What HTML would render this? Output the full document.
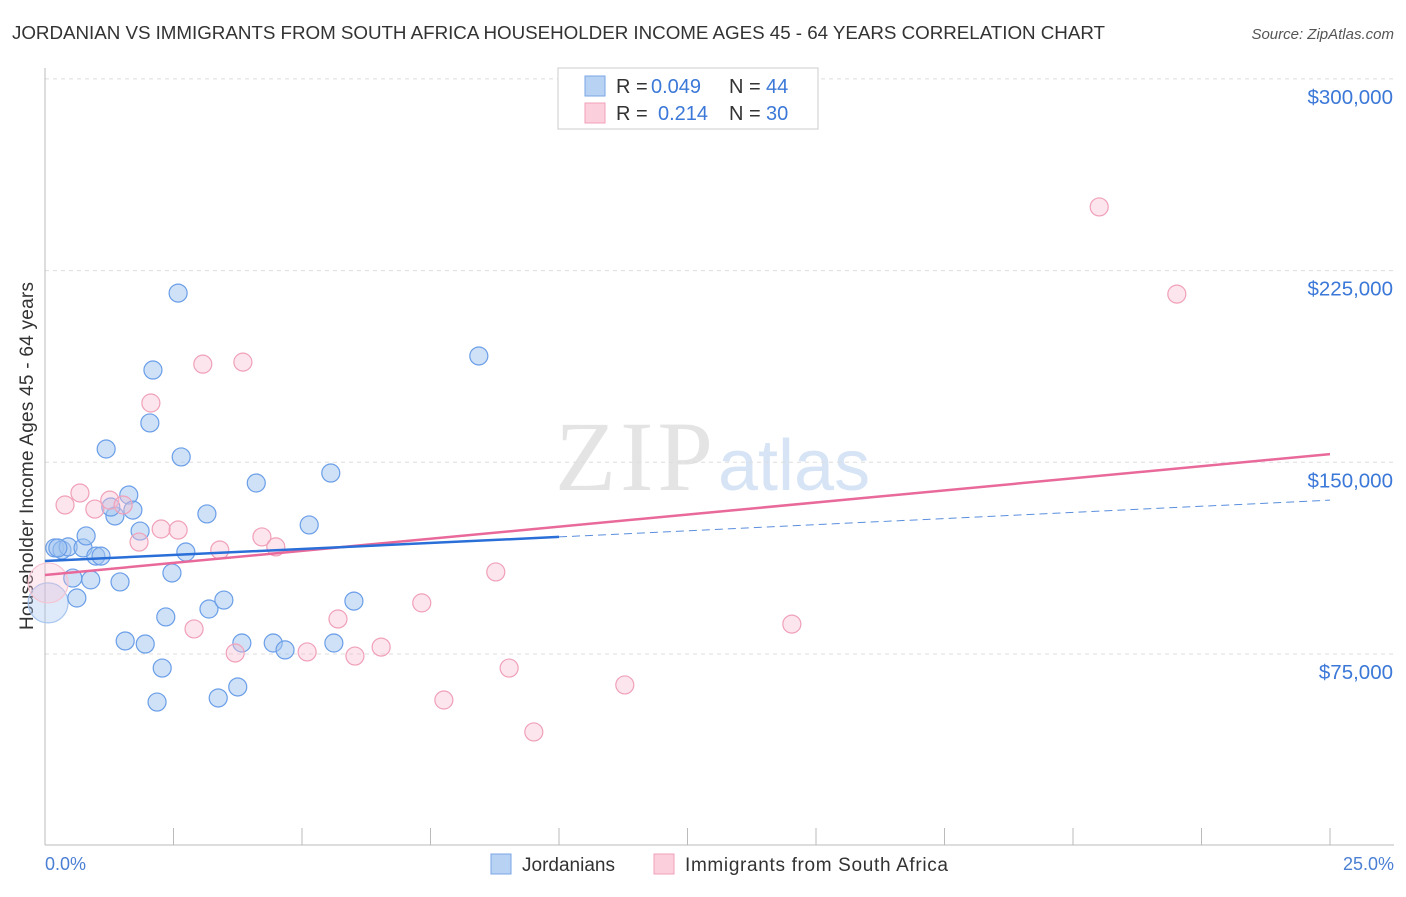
<!DOCTYPE html>
<html><head><meta charset="utf-8"><style>
body{margin:0;background:#fff;font-family:"Liberation Sans",sans-serif;}
</style></head><body>
<svg width="1406" height="892" viewBox="0 0 1406 892" xmlns="http://www.w3.org/2000/svg">
<text x="12" y="39" font-size="18.8" fill="#333" textLength="1093">JORDANIAN VS IMMIGRANTS FROM SOUTH AFRICA HOUSEHOLDER INCOME AGES 45 - 64 YEARS CORRELATION CHART</text>
<text x="1394" y="39" font-size="15" fill="#555" text-anchor="end" font-style="italic">Source: ZipAtlas.com</text>
<text x="555" y="490" font-size="100" fill="#e4e4e4" textLength="158" font-family="Liberation Serif">ZIP</text>
<text x="718" y="490" font-size="72" fill="#d6e4f5">atlas</text>
<g id="grid"></g>
<line x1="45" y1="68" x2="45" y2="845" stroke="#bbb"/>
<line x1="45" y1="845" x2="1394" y2="845" stroke="#bbb"/>
<g id="xt"></g>
<text x="45" y="870" font-size="18" fill="#4a7fd4">0.0%</text>
<text x="1394" y="870" font-size="18" fill="#4a7fd4" text-anchor="end">25.0%</text>
<text transform="translate(33,456) rotate(-90)" font-size="19" fill="#333" text-anchor="middle" textLength="348">Householder Income Ages 45 - 64 years</text>
<g id="pts"></g>
<g id="lines"></g>
<g>
<rect x="558" y="68" width="260" height="61" fill="#fff" stroke="#ccc"/>
<rect x="585" y="76" width="20" height="20" fill="#b8d2f4" stroke="#7aa6e6"/>
<text x="616" y="93" font-size="20" fill="#333">R =</text>
<text x="651" y="93" font-size="20" fill="#3b78d8">0.049</text>
<text x="729" y="93" font-size="20" fill="#333">N =</text>
<text x="766" y="93" font-size="20" fill="#3b78d8">44</text>
<rect x="585" y="103" width="20" height="20" fill="#fbcfdc" stroke="#f0a0b8"/>
<text x="616" y="120" font-size="20" fill="#333">R =</text>
<text x="658" y="120" font-size="20" fill="#3b78d8">0.214</text>
<text x="729" y="120" font-size="20" fill="#333">N =</text>
<text x="766" y="120" font-size="20" fill="#3b78d8">30</text>
</g>
<g>
<rect x="491" y="854" width="20" height="20" fill="#b8d2f4" stroke="#7aa6e6"/>
<text x="522" y="871" font-size="19" fill="#333">Jordanians</text>
<rect x="654" y="854" width="20" height="20" fill="#fbcfdc" stroke="#f0a0b8"/>
<text x="685" y="871" font-size="19" fill="#333" textLength="263">Immigrants from South Africa</text>
</g>
</svg>
<script>
const yTicks=[75,150,225,300];
const yTickLabels=["$75,000","$150,000","$225,000","$300,000"];
const blueX=[.06,.19,.33,.45,.74,.99,1.09,.54,.62,.89,1.46,.80,1.36,1.28,1.63,1.71,1.85,1.19,2.10,2.04,2.59,2.65,3.15,2.74,2.47,2.35,3.19,3.48,1.56,1.95,2.28,2.18,3.37,3.75,3.83,4.44,4.67,4.11,5.14,5.56,5.62,6.01,8.44,.25];
const blueY=[95.0,116.5,115.7,116.9,116.5,113.3,113.3,104.7,96.9,104.0,103.2,121.2,129.0,132.5,137.2,131.3,123.1,155.2,186.1,165.4,216.2,152.1,129.8,114.9,106.7,89.5,92.6,96.1,80.1,78.9,69.5,56.2,57.8,62.1,79.3,79.3,76.6,141.9,125.5,145.8,79.3,95.7,191.6,116.5];
const pinkX=[.06,.39,.68,.97,1.26,1.52,1.83,2.26,2.59,3.07,3.85,2.06,3.40,4.22,4.49,2.90,3.70,5.10,5.70,6.03,6.54,7.33,7.76,8.77,9.03,9.51,11.28,14.53,20.51,22.02];
const pinkY=[102.8,133.3,138.0,131.7,135.2,133.3,118.8,123.9,123.5,188.4,189.2,173.2,115.7,120.8,116.9,84.8,75.4,75.8,88.7,74.2,77.7,95.0,57.0,107.1,69.5,44.5,62.9,86.7,249.9,215.8];
const blueTrend=[111.4,120.8,135.2];
const pinkTrend=[105.9,153.2];
const NS="http://www.w3.org/2000/svg";
const X=p=>45+p*51.4;
const Y=v=>654-(v-75)*191.7/75;
function mk(t,a,parent){const e=document.createElementNS(NS,t);for(const k in a)e.setAttribute(k,a[k]);document.getElementById(parent).appendChild(e);return e;}
yTicks.forEach((v,i)=>{
 const l=mk('line',{x1:45,x2:1394,y1:Y(v),y2:Y(v),stroke:'#ddd','stroke-dasharray':'4,4'},'grid');
 
 
 const t=mk('text',{x:1393,y:Y(v)+25,'font-size':20.5,fill:'#3b78d8','text-anchor':'end'},'grid');
 t.textContent=yTickLabels[i];
 
 
});
for(let i=0;i<=10;i++){
 const l=mk('line',{x1:X(i*2.5),x2:X(i*2.5),y1:828,y2:845,stroke:'#bbb'},'xt');
 
 
}
blueX.forEach((x,i)=>{
 const c=mk('circle',{cx:X(x),cy:Y(blueY[i]),r:i==0?20:9,fill:i==0?'rgba(160,196,240,0.35)':'rgba(160,196,240,0.5)',stroke:i==0?'#a8c6f0':'#6a9ee8','stroke-width':1.2},'pts');
 
 
});
pinkX.forEach((x,i)=>{
 const c=mk('circle',{cx:X(x),cy:Y(pinkY[i]),r:i==0?20:9,fill:i==0?'rgba(248,190,210,0.3)':'rgba(248,190,210,0.4)',stroke:i==0?'#f6c4d2':'#f0a0b8','stroke-width':1.2},'pts');
 
 
});
let l=mk('line',{x1:X(0),y1:Y(pinkTrend[0]),x2:X(25),y2:Y(pinkTrend[1]),stroke:'#e8699a','stroke-width':2.5},'lines');


l=mk('line',{x1:X(0),y1:Y(blueTrend[0]),x2:X(10),y2:Y(blueTrend[1]),stroke:'#2a6ed8','stroke-width':2.5},'lines');


l=mk('line',{x1:X(10),y1:Y(blueTrend[1]),x2:X(25),y2:Y(blueTrend[2]),stroke:'#5a8ede','stroke-width':1,'stroke-dasharray':'8,5'},'lines');


</script>
</body></html>
